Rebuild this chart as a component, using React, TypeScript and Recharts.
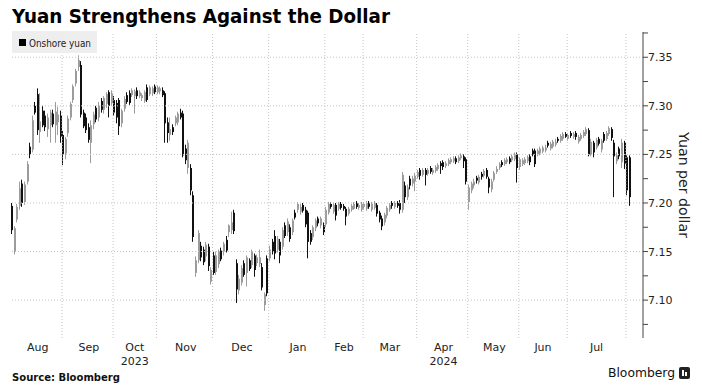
import React from "react";
import { ComposedChart, Bar, XAxis, YAxis, ReferenceLine } from "recharts";

// one candle per trading day: [open, high, low, close]
const aug23 = [
  [7.197, 7.2, 7.168, 7.172], [7.15, 7.176, 7.147, 7.174], [7.183, 7.199, 7.18, 7.196],
  [7.197, 7.222, 7.193, 7.215], [7.22, 7.224, 7.196, 7.2], [7.201, 7.222, 7.198, 7.219],
  [7.222, 7.243, 7.219, 7.24], [7.258, 7.262, 7.246, 7.25], [7.255, 7.29, 7.252, 7.285],
  [7.3, 7.304, 7.291, 7.293], [7.312, 7.318, 7.27, 7.275], [7.273, 7.313, 7.262, 7.284],
  [7.295, 7.3, 7.278, 7.28], [7.29, 7.295, 7.274, 7.278], [7.276, 7.292, 7.268, 7.288],
  [7.28, 7.296, 7.262, 7.293], [7.292, 7.296, 7.278, 7.281], [7.28, 7.304, 7.262, 7.294],
  [7.283, 7.299, 7.27, 7.291], [7.29, 7.295, 7.262, 7.268],
];
const sep23 = [
  [7.27, 7.274, 7.239, 7.25], [7.251, 7.268, 7.245, 7.266], [7.272, 7.29, 7.268, 7.287],
  [7.288, 7.304, 7.285, 7.302], [7.306, 7.322, 7.303, 7.32], [7.323, 7.338, 7.32, 7.336],
  [7.34, 7.352, 7.336, 7.347], [7.342, 7.346, 7.288, 7.291], [7.293, 7.296, 7.277, 7.279],
  [7.288, 7.292, 7.272, 7.275], [7.278, 7.282, 7.262, 7.265], [7.262, 7.285, 7.241, 7.28],
  [7.281, 7.294, 7.276, 7.291], [7.298, 7.3, 7.283, 7.286], [7.288, 7.304, 7.284, 7.3],
  [7.305, 7.308, 7.293, 7.296], [7.296, 7.31, 7.292, 7.308], [7.302, 7.314, 7.298, 7.312],
  [7.314, 7.316, 7.288, 7.3], [7.303, 7.316, 7.3, 7.313],
];
const oct23 = [
  [7.306, 7.31, 7.29, 7.293], [7.303, 7.306, 7.282, 7.288], [7.306, 7.308, 7.27, 7.279],
  [7.282, 7.297, 7.278, 7.295], [7.297, 7.31, 7.294, 7.307], [7.311, 7.314, 7.302, 7.304],
  [7.313, 7.316, 7.301, 7.303], [7.311, 7.318, 7.309, 7.316], [7.31, 7.317, 7.292, 7.315],
  [7.316, 7.319, 7.307, 7.31], [7.31, 7.316, 7.308, 7.314], [7.308, 7.313, 7.305, 7.311],
  [7.305, 7.316, 7.303, 7.314], [7.319, 7.322, 7.304, 7.306], [7.312, 7.321, 7.31, 7.319],
  [7.313, 7.32, 7.31, 7.318], [7.32, 7.322, 7.312, 7.314],
];
const nov23 = [
  [7.314, 7.321, 7.312, 7.319], [7.315, 7.32, 7.312, 7.318], [7.316, 7.319, 7.309, 7.311],
  [7.313, 7.315, 7.262, 7.282], [7.283, 7.288, 7.262, 7.272], [7.27, 7.288, 7.264, 7.276],
  [7.278, 7.281, 7.27, 7.273], [7.282, 7.29, 7.279, 7.288], [7.283, 7.294, 7.28, 7.292],
  [7.293, 7.297, 7.286, 7.288], [7.292, 7.295, 7.247, 7.249], [7.256, 7.26, 7.24, 7.244],
  [7.236, 7.265, 7.23, 7.262], [7.236, 7.24, 7.208, 7.213], [7.208, 7.212, 7.16, 7.165],
  [7.128, 7.145, 7.124, 7.141], [7.141, 7.172, 7.138, 7.169], [7.156, 7.16, 7.14, 7.144],
  [7.152, 7.155, 7.136, 7.139], [7.145, 7.16, 7.14, 7.157], [7.155, 7.158, 7.13, 7.135],
  [7.119, 7.134, 7.116, 7.131],
];
const dec23 = [
  [7.146, 7.15, 7.126, 7.128], [7.129, 7.15, 7.126, 7.146], [7.137, 7.152, 7.133, 7.15],
  [7.151, 7.154, 7.14, 7.142], [7.15, 7.16, 7.146, 7.158], [7.162, 7.166, 7.149, 7.151],
  [7.17, 7.178, 7.165, 7.177], [7.172, 7.191, 7.168, 7.18], [7.19, 7.193, 7.168, 7.171],
  [7.138, 7.142, 7.097, 7.111], [7.11, 7.126, 7.106, 7.122], [7.118, 7.136, 7.115, 7.133],
  [7.138, 7.141, 7.124, 7.126], [7.128, 7.146, 7.114, 7.144], [7.141, 7.143, 7.13, 7.132],
  [7.136, 7.152, 7.133, 7.15], [7.146, 7.148, 7.124, 7.131], [7.138, 7.147, 7.135, 7.144],
  [7.137, 7.152, 7.134, 7.144], [7.134, 7.138, 7.11, 7.113], [7.095, 7.108, 7.089, 7.106],
  [7.143, 7.146, 7.104, 7.107],
];
const jan24 = [
  [7.143, 7.156, 7.14, 7.152], [7.16, 7.163, 7.147, 7.15], [7.166, 7.172, 7.142, 7.148],
  [7.152, 7.166, 7.149, 7.163], [7.16, 7.163, 7.138, 7.146], [7.155, 7.175, 7.152, 7.172],
  [7.177, 7.18, 7.164, 7.166], [7.17, 7.184, 7.166, 7.181], [7.175, 7.178, 7.16, 7.163],
  [7.17, 7.184, 7.167, 7.182], [7.19, 7.193, 7.183, 7.185], [7.193, 7.201, 7.19, 7.199],
  [7.191, 7.199, 7.188, 7.196], [7.198, 7.2, 7.19, 7.192], [7.193, 7.196, 7.175, 7.178],
  [7.19, 7.192, 7.143, 7.16], [7.169, 7.172, 7.157, 7.16], [7.165, 7.177, 7.162, 7.175],
  [7.174, 7.184, 7.171, 7.182], [7.184, 7.186, 7.176, 7.179], [7.177, 7.186, 7.174, 7.184],
  [7.177, 7.18, 7.167, 7.17],
];
const feb24 = [
  [7.178, 7.196, 7.175, 7.193], [7.19, 7.201, 7.188, 7.199], [7.199, 7.201, 7.194, 7.196],
  [7.191, 7.2, 7.189, 7.198], [7.198, 7.2, 7.182, 7.187], [7.194, 7.201, 7.192, 7.199],
  [7.199, 7.201, 7.193, 7.195], [7.197, 7.199, 7.192, 7.194], [7.194, 7.196, 7.177, 7.186],
  [7.189, 7.196, 7.187, 7.194], [7.193, 7.199, 7.191, 7.197], [7.194, 7.201, 7.193, 7.199],
  [7.2, 7.202, 7.194, 7.196], [7.195, 7.2, 7.193, 7.198], [7.193, 7.201, 7.191, 7.199],
];
const mar24 = [
  [7.196, 7.201, 7.193, 7.199], [7.194, 7.202, 7.192, 7.2], [7.2, 7.202, 7.194, 7.196],
  [7.193, 7.201, 7.191, 7.199], [7.195, 7.202, 7.193, 7.2], [7.198, 7.2, 7.186, 7.189],
  [7.19, 7.192, 7.18, 7.183], [7.184, 7.187, 7.172, 7.176], [7.18, 7.19, 7.177, 7.188],
  [7.187, 7.197, 7.184, 7.195], [7.193, 7.2, 7.191, 7.198], [7.2, 7.202, 7.194, 7.197],
  [7.196, 7.202, 7.194, 7.2], [7.2, 7.202, 7.195, 7.197], [7.2, 7.203, 7.189, 7.193],
  [7.193, 7.232, 7.19, 7.229], [7.218, 7.222, 7.2, 7.206], [7.206, 7.219, 7.203, 7.216],
  [7.225, 7.228, 7.214, 7.218], [7.22, 7.228, 7.217, 7.225], [7.222, 7.231, 7.212, 7.228],
];
const apr24 = [
  [7.227, 7.234, 7.225, 7.232], [7.234, 7.236, 7.224, 7.228], [7.229, 7.236, 7.227, 7.234],
  [7.234, 7.236, 7.218, 7.229], [7.23, 7.236, 7.228, 7.234], [7.236, 7.238, 7.23, 7.232],
  [7.231, 7.236, 7.229, 7.234], [7.233, 7.239, 7.231, 7.237], [7.235, 7.241, 7.233, 7.239],
  [7.241, 7.243, 7.23, 7.238], [7.242, 7.244, 7.234, 7.237], [7.238, 7.243, 7.236, 7.241],
  [7.24, 7.246, 7.238, 7.244], [7.242, 7.247, 7.24, 7.245], [7.243, 7.248, 7.241, 7.246],
  [7.246, 7.248, 7.24, 7.242], [7.243, 7.249, 7.241, 7.247], [7.246, 7.251, 7.244, 7.249],
  [7.248, 7.25, 7.236, 7.243], [7.245, 7.247, 7.219, 7.222],
];
const may24 = [
  [7.201, 7.219, 7.193, 7.216], [7.213, 7.222, 7.21, 7.22], [7.218, 7.225, 7.215, 7.222],
  [7.226, 7.228, 7.22, 7.223], [7.221, 7.229, 7.219, 7.227], [7.23, 7.232, 7.224, 7.227],
  [7.228, 7.235, 7.226, 7.233], [7.234, 7.236, 7.225, 7.227], [7.225, 7.227, 7.21, 7.216],
  [7.214, 7.225, 7.211, 7.222], [7.224, 7.233, 7.222, 7.231], [7.232, 7.238, 7.23, 7.235],
  [7.236, 7.242, 7.234, 7.24], [7.242, 7.244, 7.237, 7.239], [7.24, 7.246, 7.238, 7.244],
  [7.242, 7.247, 7.24, 7.245], [7.246, 7.248, 7.24, 7.242], [7.244, 7.25, 7.242, 7.248],
  [7.245, 7.252, 7.243, 7.25], [7.25, 7.252, 7.221, 7.236],
];
const jun24 = [
  [7.237, 7.247, 7.234, 7.245], [7.24, 7.246, 7.238, 7.244], [7.241, 7.247, 7.239, 7.245],
  [7.243, 7.249, 7.241, 7.247], [7.248, 7.25, 7.239, 7.242], [7.254, 7.256, 7.248, 7.25],
  [7.254, 7.256, 7.237, 7.24], [7.25, 7.256, 7.248, 7.254], [7.251, 7.258, 7.249, 7.256],
  [7.253, 7.259, 7.251, 7.257], [7.254, 7.26, 7.252, 7.257], [7.262, 7.264, 7.257, 7.259],
  [7.256, 7.263, 7.254, 7.261], [7.258, 7.265, 7.256, 7.263], [7.26, 7.266, 7.258, 7.263],
  [7.266, 7.268, 7.262, 7.264], [7.264, 7.271, 7.262, 7.269], [7.266, 7.273, 7.264, 7.271],
  [7.271, 7.273, 7.267, 7.268],
];
const jul24 = [
  [7.266, 7.272, 7.264, 7.27], [7.272, 7.274, 7.267, 7.269], [7.268, 7.273, 7.266, 7.271],
  [7.272, 7.274, 7.265, 7.268], [7.263, 7.27, 7.261, 7.268], [7.266, 7.272, 7.264, 7.27],
  [7.269, 7.275, 7.267, 7.273], [7.271, 7.278, 7.269, 7.276], [7.275, 7.277, 7.248, 7.25],
  [7.25, 7.266, 7.248, 7.263], [7.262, 7.264, 7.247, 7.252], [7.257, 7.267, 7.255, 7.265],
  [7.266, 7.268, 7.259, 7.261], [7.255, 7.266, 7.252, 7.264], [7.271, 7.273, 7.262, 7.264],
  [7.266, 7.274, 7.264, 7.272], [7.271, 7.279, 7.269, 7.277], [7.276, 7.278, 7.264, 7.267],
  [7.262, 7.265, 7.206, 7.248], [7.243, 7.252, 7.24, 7.249], [7.256, 7.258, 7.245, 7.248],
  [7.242, 7.266, 7.236, 7.262], [7.262, 7.264, 7.235, 7.24],
];
const aug24 = [
  [7.247, 7.249, 7.208, 7.213], [7.247, 7.249, 7.197, 7.206],
];

const months = [aug23, sep23, oct23, nov23, dec23, jan24, feb24, mar24, apr24, may24, jun24, jul24, aug24];
const monthLabels = ["Aug", "Sep", "Oct", "Nov", "Dec", "Jan", "Feb", "Mar", "Apr", "May", "Jun", "Jul", ""];
const yearLabels = ["", "", "2023", "", "", "", "", "", "2024", "", "", "", ""];
const gridValues = [7.1, 7.15, 7.2, 7.25, 7.3, 7.35];
const yTicks = [7.075, 7.1, 7.125, 7.15, 7.175, 7.2, 7.225, 7.25, 7.275, 7.3, 7.325, 7.35, 7.375];

// flatten months into one row per day
const data: any[] = [];
const monthStarts: number[] = [];
const labelAt: Record<number, { m: string; y: string }> = {};
months.forEach((days, mi) => {
  const start = data.length;
  monthStarts.push(start);
  if (monthLabels[mi]) {
    labelAt[Math.round(start + days.length / 2 - 0.5)] = { m: monthLabels[mi], y: yearLabels[mi] };
  }
  days.forEach(([o, h, l, c]) => {
    data.push({ i: data.length, o, h, l, c, range: [l, h] });
  });
});
const labelTicks = Object.keys(labelAt).map(Number);

const FONT = "'DejaVu Sans', Verdana, sans-serif";

const Candle = (props: any) => {
  const { x, y, width, height, payload } = props;
  if (!payload) return null;
  const { o, h, l, c } = payload;
  const top = Math.min(y, y + height);
  const span = Math.abs(height);
  const ppu = span / (h - l);
  const cx = Math.round(x + width / 2);
  const bTop = top + (h - Math.max(o, c)) * ppu;
  const bH = Math.max(1, Math.abs(o - c) * ppu);
  const col = c < o ? "#111111" : "#9c9c9c";
  return (
    <g>
      <line x1={cx - 0.5} x2={cx - 0.5} y1={top} y2={top + span} stroke={col} strokeWidth={1} />
      <rect x={cx - 1} y={bTop} width={2} height={bH} fill={col} />
    </g>
  );
};

const XTick = ({ x, y, payload }: any) => {
  const lab = labelAt[payload.value];
  if (!lab) return null;
  return (
    <g>
      <text x={x} y={y + 13} textAnchor="middle" fontFamily={FONT} fontSize={11} fill="#222">
        {lab.m}
      </text>
      {lab.y && (
        <text x={x} y={y + 27} textAnchor="middle" fontFamily={FONT} fontSize={11} fill="#222">
          {lab.y}
        </text>
      )}
    </g>
  );
};

const YTick = ({ x, y, payload }: any) => {
  const v = payload.value;
  const major = Math.abs(v * 20 - Math.round(v * 20)) < 1e-6;
  return (
    <g>
      <line x1={x} x2={x + 5} y1={y} y2={y} stroke="#444" />
      {major && (
        <text x={x + 5} y={y + 4} fontFamily={FONT} fontSize={11} fill="#222">
          {v.toFixed(2)}
        </text>
      )}
    </g>
  );
};

export default function App() {
  return (
    <div style={{ position: "absolute", left: 0, top: 0, width: 702, height: 389, background: "#fff" }}>
      <ComposedChart width={702} height={389} data={data} margin={{ top: 32, right: 0, bottom: 0, left: 11 }}>
        <XAxis
          dataKey="i"
          type="category"
          ticks={labelTicks}
          interval={0}
          tick={<XTick />}
          tickLine={false}
          axisLine={false}
          tickSize={0}
          tickMargin={0}
          height={51}
          padding={{ left: 0, right: 12 }}
        />
        <YAxis
          orientation="right"
          type="number"
          width={59}
          domain={[7.061, 7.376]}
          allowDataOverflow
          ticks={yTicks}
          interval={0}
          tick={<YTick />}
          tickLine={false}
          tickSize={0}
          tickMargin={0}
          axisLine={{ stroke: "#444" }}
        />
        {gridValues.map((v) => (
          <ReferenceLine key={"h" + v} y={v} stroke="#c4c4c4" strokeDasharray="1 2" />
        ))}
        {monthStarts.slice(1).map((s) => (
          <ReferenceLine key={"v" + s} x={s} position="start" stroke="#c4c4c4" strokeDasharray="1 2" />
        ))}
        <Bar dataKey="range" isAnimationActive={false} shape={(p: any) => <Candle {...p} />} />
      </ComposedChart>
      <svg width={702} height={389} style={{ position: "absolute", left: 0, top: 0, pointerEvents: "none" }}>
        <text x={12} y={23} fontFamily={FONT} fontWeight="bold" fontSize={19} fill="#000" textLength={378} lengthAdjust="spacingAndGlyphs">
          Yuan Strengthens Against the Dollar
        </text>
        <rect x={12} y={31} width={85} height={22} fill="#ebebeb" opacity={0.85} />
        <rect x={19} y={39} width={7} height={7} fill="#000" />
        <text x={29} y={46.5} fontFamily={FONT} fontSize={10.5} fill="#222" textLength={62} lengthAdjust="spacingAndGlyphs">
          Onshore yuan
        </text>
        <text
          x={684}
          y={185}
          transform="rotate(90 684 185)"
          textAnchor="middle"
          dominantBaseline="central"
          fontFamily={FONT}
          fontSize={14}
          fill="#222"
          textLength={106}
          lengthAdjust="spacingAndGlyphs"
        >
          Yuan per dollar
        </text>
        <text x={12} y={381} fontFamily={FONT} fontWeight="bold" fontSize={10} fill="#111" textLength={108} lengthAdjust="spacingAndGlyphs">
          Source: Bloomberg
        </text>
        <text x={608} y={377} fontFamily={FONT} fontSize={13} fill="#111" textLength={67} lengthAdjust="spacingAndGlyphs">
          Bloomberg
        </text>
        <rect x={679} y={367} width={11} height={12} rx={2} fill="#222" />
        <rect x={682} y={370} width={2} height={6} fill="#fff" />
        <rect x={685} y={372} width={2} height={4} fill="#fff" />
      </svg>
    </div>
  );
}
